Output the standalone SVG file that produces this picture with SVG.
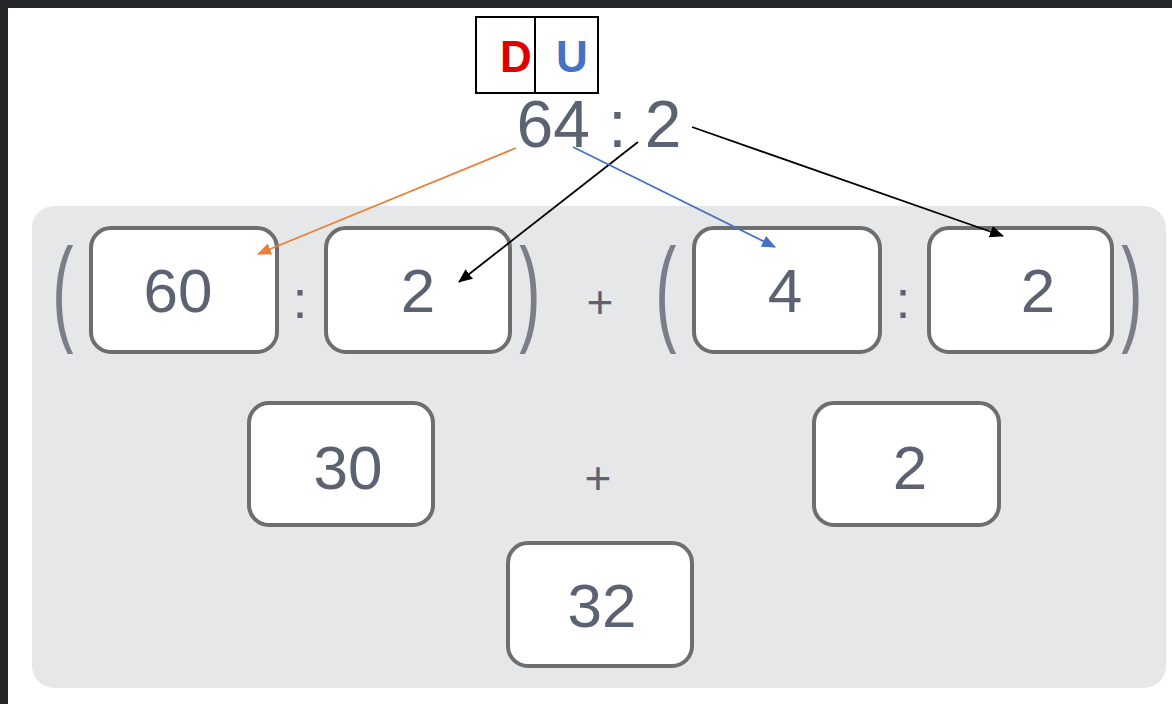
<svg xmlns="http://www.w3.org/2000/svg" width="1172" height="704" viewBox="0 0 1172 704">
<style>
.box{fill:#ffffff;stroke:#6e6e6e;stroke-width:4}
.num{font-family:"Liberation Sans",Arial,sans-serif;font-size:62px;fill:#5c6272;text-anchor:middle}
.op{font-family:"Liberation Sans",Arial,sans-serif;fill:#5c6272;text-anchor:middle}
.par{font-family:"Liberation Sans",Arial,sans-serif;font-size:116px;fill:#7a7e88;text-anchor:middle}
.du{font-family:"Liberation Sans",Arial,sans-serif;font-weight:bold;font-size:44px;text-anchor:middle}
.conn{fill:none;stroke-width:1.8}
</style>
<defs>
<marker id="ahO" markerWidth="14" markerHeight="12" refX="13" refY="6" orient="auto" markerUnits="userSpaceOnUse" viewBox="0 0 14 12"><path d="M0,0 L14,6 L0,12 z" fill="#e9803a"/></marker>
<marker id="ahB" markerWidth="14" markerHeight="12" refX="13" refY="6" orient="auto" markerUnits="userSpaceOnUse" viewBox="0 0 14 12"><path d="M0,0 L14,6 L0,12 z" fill="#000000"/></marker>
<marker id="ahU" markerWidth="14" markerHeight="12" refX="13" refY="6" orient="auto" markerUnits="userSpaceOnUse" viewBox="0 0 14 12"><path d="M0,0 L14,6 L0,12 z" fill="#4472c4"/></marker>
</defs>
<rect x="0" y="0" width="1172" height="704" fill="#ffffff"/>
<rect x="0" y="0" width="1172" height="8" fill="#25272b"/>
<rect x="0" y="0" width="8" height="704" fill="#25272b"/>
<rect id="panel" x="32" y="206" width="1134" height="482" rx="22" fill="#e6e7e9"/>

<g id="du-header">
<rect x="476" y="17" width="122" height="76" fill="#ffffff" stroke="#000000" stroke-width="2"/>
<line x1="535" y1="17" x2="535" y2="93" stroke="#000000" stroke-width="2"/>
<text class="du" x="516" y="72" fill="#e00000">D</text>
<text class="du" x="572" y="72" fill="#4472c4">U</text>
</g>

<g id="dividend">
<text class="op" x="599" y="147" font-size="66">64 : 2</text>
</g>

<g id="group1">
<text class="par" x="63" y="330" transform="translate(63 0) scale(0.55 1) translate(-63 0)">(</text>
<g id="box-60"><rect class="box" x="91" y="228" width="186" height="124" rx="20"/><text class="num" x="178" y="312">60</text></g>
<text class="op" x="300" y="318" font-size="54">:</text>
<g id="box-2a"><rect class="box" x="326" y="228" width="184" height="124" rx="20"/><text class="num" x="418" y="312">2</text></g>
<text class="par" x="530" y="330" transform="translate(530 0) scale(0.55 1) translate(-530 0)">)</text>
</g>

<text class="op" x="600" y="318" font-size="46">+</text>

<g id="group2">
<text class="par" x="666" y="330" transform="translate(666 0) scale(0.55 1) translate(-666 0)">(</text>
<g id="box-4"><rect class="box" x="694" y="228" width="186" height="124" rx="20"/><text class="num" x="785" y="312">4</text></g>
<text class="op" x="903" y="318" font-size="54">:</text>
<g id="box-2b"><rect class="box" x="929" y="228" width="183" height="124" rx="20"/><text class="num" x="1038" y="312">2</text></g>
<text class="par" x="1132" y="330" transform="translate(1132 0) scale(0.55 1) translate(-1132 0)">)</text>
</g>

<g id="box-30"><rect class="box" x="249" y="403" width="184" height="122" rx="20"/><text class="num" x="348" y="489">30</text></g>
<text class="op" x="598" y="494" font-size="46">+</text>
<g id="box-2c"><rect class="box" x="814" y="403" width="185" height="122" rx="20"/><text class="num" x="910" y="489">2</text></g>
<g id="box-32"><rect class="box" x="508" y="543" width="184" height="123" rx="20"/><text class="num" x="602" y="627">32</text></g>

<g id="connectors">
<line class="conn" x1="516" y1="148" x2="258" y2="254" stroke="#e9803a" marker-end="url(#ahO)"/>
<line class="conn" x1="638" y1="142" x2="459" y2="282" stroke="#000000" marker-end="url(#ahB)"/>
<line class="conn" x1="573" y1="147" x2="775" y2="247" stroke="#4472c4" marker-end="url(#ahU)"/>
<line class="conn" x1="692" y1="127" x2="1003" y2="236" stroke="#000000" marker-end="url(#ahB)"/>
</g>
</svg>
